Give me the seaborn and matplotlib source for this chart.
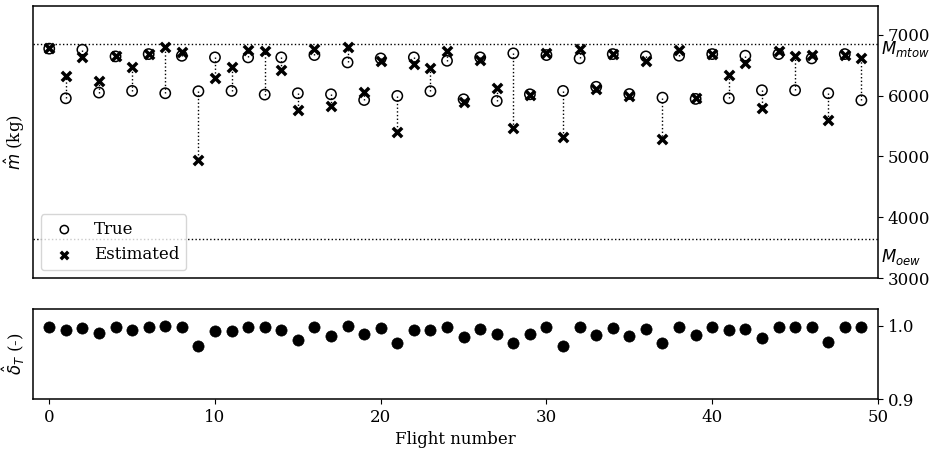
import matplotlib
matplotlib.use('Agg')
import matplotlib.pyplot as plt
import matplotlib.transforms as mtransforms
import seaborn as sns
import numpy as np

# Datos
flights = np.arange(50)

true_mass = [6770, 5955, 6753, 6049, 6643, 6076, 6681, 6038, 6653, 6071,
             6627, 6076, 6627, 6016, 6627, 6038, 6665, 6021, 6544, 5927,
             6610, 5994, 6627, 6071, 6571, 5939, 6627, 5911, 6693, 6021,
             6665, 6076, 6610, 6144, 6681, 6025, 6643, 5966, 6654, 5945,
             6681, 5955, 6654, 6087, 6681, 6087, 6610, 6038, 6681, 5923]

est_mass = [6780, 6314, 6637, 6241, 6643, 6462, 6681, 6791, 6719, 4949,
            6281, 6462, 6753, 6731, 6423, 5757, 6764, 5829, 6791, 6060,
            6561, 5400, 6516, 6445, 6737, 5895, 6588, 6131, 5460, 6010,
            6698, 5318, 6764, 6110, 6681, 6000, 6561, 5280, 6753, 5965,
            6681, 6335, 6528, 5796, 6737, 6654, 6665, 5598, 6670, 6615]

delta_t = [0.998, 0.9945, 0.9977, 0.9904, 0.999, 0.995, 0.999, 1.0, 0.999, 0.9726,
           0.9936, 0.9927, 0.999, 0.999, 0.995, 0.980, 0.999, 0.9863, 0.9995, 0.9886,
           0.997, 0.977, 0.995, 0.995, 0.999, 0.9854, 0.996, 0.9886, 0.976, 0.989,
           0.999, 0.972, 0.999, 0.988, 0.997, 0.986, 0.996, 0.976, 0.999, 0.987,
           0.999, 0.994, 0.996, 0.983, 0.999, 0.999, 0.999, 0.978, 0.998, 0.998]

m_mtow = 6845
m_oew = 3650

sns.set_theme(style='ticks')
plt.rcParams['font.family'] = ['DejaVu Serif']
plt.rcParams['font.size'] = 12
plt.rcParams['axes.labelsize'] = 12
plt.rcParams['xtick.labelsize'] = 12
plt.rcParams['ytick.labelsize'] = 12
plt.rcParams['legend.fontsize'] = 12
plt.rcParams['text.color'] = 'black'
plt.rcParams['axes.labelcolor'] = 'black'
plt.rcParams['axes.edgecolor'] = 'black'
plt.rcParams['axes.linewidth'] = 1.1
plt.rcParams['xtick.color'] = 'black'
plt.rcParams['ytick.color'] = 'black'
plt.rcParams['xtick.major.size'] = 3.5
plt.rcParams['ytick.major.size'] = 3.5
plt.rcParams['xtick.major.width'] = 0.8
plt.rcParams['ytick.major.width'] = 0.8

fig = plt.figure(figsize=(9.33, 4.5), dpi=100)
ax1 = fig.add_axes([0.035, 0.3816, 0.906, 0.605])
ax2 = fig.add_axes([0.035, 0.1133, 0.906, 0.200])

# Panel superior: masa
ax1.vlines(flights, true_mass, est_mass, colors='black', linestyles=':', linewidth=1, zorder=1)
ax1.axhline(m_mtow, color='black', linestyle=':', linewidth=1, zorder=1)
ax1.axhline(m_oew, color='black', linestyle=':', linewidth=1, zorder=1)
sns.scatterplot(x=flights, y=true_mass, ax=ax1, marker='o', s=55,
                facecolor='none', edgecolor='black', linewidth=1.1, label='True', zorder=3)
sns.scatterplot(x=flights, y=est_mass, ax=ax1, marker='x', s=45,
                color='black', linewidth=2.5, label='Estimated', zorder=4)

ax1.set_xlim(-1, 50)
ax1.set_ylim(3000, 7470)
ax1.set_yticks([3000, 4000, 5000, 6000, 7000])
ax1.yaxis.tick_right()
ax1.tick_params(axis='x', bottom=False, labelbottom=False)
ax1.set_ylabel(r'$\hat{m}$ (kg)')
ax1.set_xlabel('')
ax1.legend(loc='lower left', markerscale=0.8)

trans = mtransforms.blended_transform_factory(ax1.transAxes, ax1.transData)
ax1.text(1.004, m_mtow - 80, r'$M_{mtow}$', transform=trans, ha='left', va='center', fontsize=12)
ax1.text(1.004, m_oew - 300, r'$M_{oew}$', transform=trans, ha='left', va='center', fontsize=12)

# Panel inferior: throttle
sns.scatterplot(x=flights, y=delta_t, ax=ax2, marker='o', s=65,
                color='black', edgecolor='black', linewidth=0.5, zorder=3)
ax2.set_xlim(-1, 50)
ax2.set_ylim(0.9, 1.023)
ax2.set_yticks([0.9, 1.0])
ax2.set_xticks([0, 10, 20, 30, 40, 50])
ax2.yaxis.tick_right()
ax2.set_ylabel(r'$\hat{\delta}_T$ (-)')
ax2.set_xlabel('Flight number')

fig.savefig('out.png', dpi=100)
